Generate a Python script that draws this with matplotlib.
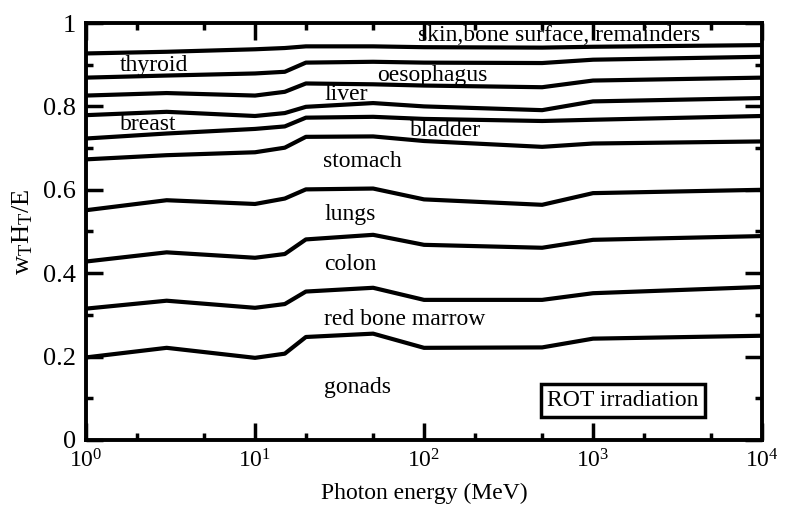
import matplotlib
matplotlib.use("Agg")
import matplotlib.pyplot as plt
from matplotlib.ticker import LogLocator, LogFormatterMathtext, MultipleLocator, NullFormatter

plt.rcParams['font.family'] = ['Liberation Serif', 'DejaVu Serif']
plt.rcParams['mathtext.fontset'] = 'custom'
plt.rcParams['mathtext.rm'] = 'Liberation Serif'
plt.rcParams['mathtext.it'] = 'Liberation Serif:italic'

# photon energies (MeV) where the cumulative fractions are known
energy = [1, 3, 10, 15, 20, 50, 100, 500, 1000, 10000]

# cumulative w_T H_T / E, upper edge of each organ band (bottom to top)
gonads = [0.198, 0.221, 0.197, 0.207, 0.247, 0.255, 0.221, 0.222, 0.243, 0.250]
red_bone_marrow = [0.315, 0.334, 0.317, 0.326, 0.356, 0.365, 0.336, 0.336, 0.352, 0.367]
colon = [0.428, 0.450, 0.437, 0.446, 0.481, 0.492, 0.468, 0.461, 0.480, 0.489]
lungs = [0.551, 0.575, 0.566, 0.579, 0.601, 0.603, 0.577, 0.564, 0.592, 0.600]
stomach = [0.673, 0.683, 0.690, 0.701, 0.727, 0.728, 0.717, 0.703, 0.711, 0.716]
bladder = [0.723, 0.735, 0.746, 0.752, 0.773, 0.775, 0.770, 0.765, 0.768, 0.777]
breast = [0.779, 0.787, 0.777, 0.784, 0.799, 0.808, 0.800, 0.791, 0.812, 0.820]
liver = [0.826, 0.832, 0.826, 0.835, 0.855, 0.853, 0.850, 0.846, 0.862, 0.869]
oesophagus = [0.869, 0.874, 0.879, 0.883, 0.905, 0.907, 0.905, 0.904, 0.912, 0.919]
thyroid = [0.927, 0.931, 0.937, 0.940, 0.944, 0.944, 0.942, 0.941, 0.943, 0.947]

bands = [gonads, red_bone_marrow, colon, lungs, stomach,
         bladder, breast, liver, oesophagus, thyroid]


fig = plt.figure(figsize=(7.85, 5.09), dpi=100)
ax = fig.add_axes([0.1096, 0.1356, 0.8611, 0.8192])

for b in bands:
    ax.plot(energy, b, color='black', lw=3.0, solid_capstyle='butt')

ax.set_xscale('log')
ax.set_xlim(1, 1e4)
ax.set_ylim(0, 1)

# organ names sit inside their bands
fs = 17
ax.text(92, 0.971, 'skin,bone surface, remainders', fontsize=fs, va='center')
ax.text(1.59, 0.899, 'thyroid', fontsize=fs, va='center')
ax.text(52.7, 0.875, 'oesophagus', fontsize=fs, va='center')
ax.text(25.6, 0.829, 'liver', fontsize=fs, va='center')
ax.text(1.59, 0.757, 'breast', fontsize=fs, va='center')
ax.text(82.6, 0.743, 'bladder', fontsize=fs, va='center')
ax.text(25.2, 0.667, 'stomach', fontsize=fs, va='center')
ax.text(25.6, 0.540, 'lungs', fontsize=fs, va='center')
ax.text(25.6, 0.422, 'colon', fontsize=fs, va='center')
ax.text(25.6, 0.290, 'red bone marrow', fontsize=fs, va='center')
ax.text(25.6, 0.127, 'gonads', fontsize=fs, va='center')

ax.text(1506, 0.094, 'ROT irradiation', fontsize=fs, ha='center', va='center',
        bbox=dict(boxstyle='square,pad=0.25', fc='white', ec='black', lw=2.5))

# ticks inside on every side
ax.xaxis.set_major_locator(LogLocator(base=10, numticks=10))
ax.xaxis.set_major_formatter(LogFormatterMathtext())
ax.xaxis.set_minor_locator(LogLocator(base=10, subs=(2, 5), numticks=10))
ax.xaxis.set_minor_formatter(NullFormatter())
ax.set_yticks([0, 0.2, 0.4, 0.6, 0.8, 1.0])
ax.set_yticklabels(['0', '0.2', '0.4', '0.6', '0.8', '1'])
ax.yaxis.set_minor_locator(MultipleLocator(0.1))
ax.tick_params(which='both', direction='in', top=True, right=True)
ax.tick_params(axis='x', labelsize=17)
ax.tick_params(axis='y', labelsize=19)
ax.tick_params(which='major', length=12, width=2.5, pad=7)
ax.tick_params(which='minor', length=5, width=2.5)

for s in ax.spines.values():
    s.set_linewidth(2.8)

ax.set_xlabel('Photon energy (MeV)', fontsize=17, labelpad=7)
ax.set_ylabel(r'$\mathregular{w_TH_T/E}$', fontsize=19, labelpad=6)

fig.savefig('out.png', dpi=100)
